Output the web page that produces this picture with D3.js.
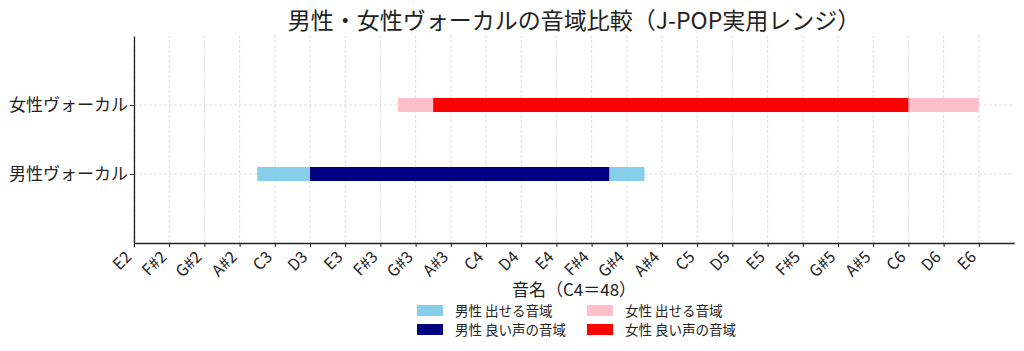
<!DOCTYPE html>
<html>
<head>
<meta charset="utf-8">
<script src="https://cdn.jsdelivr.net/npm/d3@7"></script>
<style>
  body { margin: 0; background: #fff; }
  svg text { font-family: "Noto Sans CJK JP", "Noto Sans", sans-serif; fill: #222; }
</style>
</head>
<body>
<div id="chart"></div>
<script>
// data
const vocals = ["男性ヴォーカル", "女性ヴォーカル"];
const fullRange = [[35, 57], [43, 76]];   // 出せる音域
const goodRange = [[38, 55], [45, 72]];   // 良い声の音域
const tickValues = [28, 30, 32, 34, 36, 38, 40, 42, 44, 46, 48, 50, 52, 54, 56, 58, 60, 62, 64, 66, 68, 70, 72, 74, 76];
const tickLabels = ["E2", "F#2", "G#2", "A#2", "C3", "D3", "E3", "F#3", "G#3", "A#3", "C4", "D4", "E4",
  "F#4", "G#4", "A#4", "C5", "D5", "E5", "F#5", "G#5", "A#5", "C6", "D6", "E6"];
const legendLabels = ["男性 出せる音域", "男性 良い声の音域", "女性 出せる音域", "女性 良い声の音域"];

const fullColors = ["#87CEEB", "#FFC0CB"];
const goodColors = ["#000080", "#FF0000"];

const width = 1024, height = 351;
const margin = { top: 36, right: 10, bottom: 108, left: 134 };

const svg = d3.select("#chart").append("svg")
  .attr("width", width).attr("height", height);

const x = d3.scaleLinear().domain([28, 78]).range([margin.left, width - margin.right]);
const y = d3.scaleLinear().domain([-1, 2]).range([height - margin.bottom, margin.top]);

// grid
const grid = svg.append("g").attr("stroke", "#d6d6d6").attr("stroke-dasharray", "3,2").attr("stroke-width", 0.8);
grid.selectAll(".vx").data(tickValues).enter().append("line")
  .attr("x1", d => x(d)).attr("x2", d => x(d))
  .attr("y1", y(-1)).attr("y2", y(2));
grid.selectAll(".hy").data(vocals).enter().append("line")
  .attr("x1", x(28)).attr("x2", x(78))
  .attr("y1", (d, i) => y(i)).attr("y2", (d, i) => y(i));

// bars
const barH = 14;
svg.selectAll(".full").data(fullRange).enter().append("rect")
  .attr("x", d => x(d[0])).attr("width", d => x(d[1]) - x(d[0]))
  .attr("y", (d, i) => y(i) - barH / 2).attr("height", barH)
  .attr("fill", (d, i) => fullColors[i]);
svg.selectAll(".good").data(goodRange).enter().append("rect")
  .attr("x", d => x(d[0])).attr("width", d => x(d[1]) - x(d[0]))
  .attr("y", (d, i) => y(i) - barH / 2).attr("height", barH)
  .attr("fill", (d, i) => goodColors[i]);

// axes
const xAxis = svg.append("g").attr("transform", `translate(0,${y(-1)})`)
  .call(d3.axisBottom(x).tickValues(tickValues).tickFormat((d, i) => tickLabels[i]).tickSize(4).tickSizeOuter(0));
xAxis.select(".domain").attr("stroke", "#222").attr("stroke-width", 1.3);
xAxis.selectAll(".tick line").attr("stroke", "#222");
xAxis.selectAll("text")
  .style("font-size", "16px")
  .attr("text-anchor", "end")
  .attr("x", 0).attr("y", 0).attr("dx", 0).attr("dy", "0.35em")
  .attr("transform", "translate(-6,11) rotate(-45)");

const yAxis = svg.append("g").attr("transform", `translate(${x(28)},0)`)
  .call(d3.axisLeft(y).tickValues([0, 1]).tickFormat((d, i) => vocals[i]).tickSize(4).tickPadding(2).tickSizeOuter(0));
yAxis.select(".domain").attr("stroke", "#222").attr("stroke-width", 1.3);
yAxis.selectAll(".tick line").attr("stroke", "#222");
yAxis.selectAll("text").style("font-size", "17px");

// title and axis label
svg.append("text").attr("x", (x(28) + x(78)) / 2).attr("y", 29)
  .attr("text-anchor", "middle").style("font-size", "23px")
  .text("男性・女性ヴォーカルの音域比較（J-POP実用レンジ）");

svg.append("text").attr("x", (x(28) + x(78)) / 2).attr("y", 296)
  .attr("text-anchor", "middle").style("font-size", "17px")
  .text("音名（C4＝48）");

// legend
const legendColors = [fullColors[0], goodColors[0], fullColors[1], goodColors[1]];
const legend = svg.append("g");
const items = legend.selectAll("g").data(legendLabels).enter().append("g")
  .attr("transform", (d, i) => `translate(${417 + Math.floor(i / 2) * 170},${305 + (i % 2) * 19})`);
items.append("rect").attr("width", 26).attr("height", 11).attr("fill", (d, i) => legendColors[i]);
items.append("text").attr("x", 38).attr("y", 11).style("font-size", "13.5px").text(d => d);
</script>
</body>
</html>
